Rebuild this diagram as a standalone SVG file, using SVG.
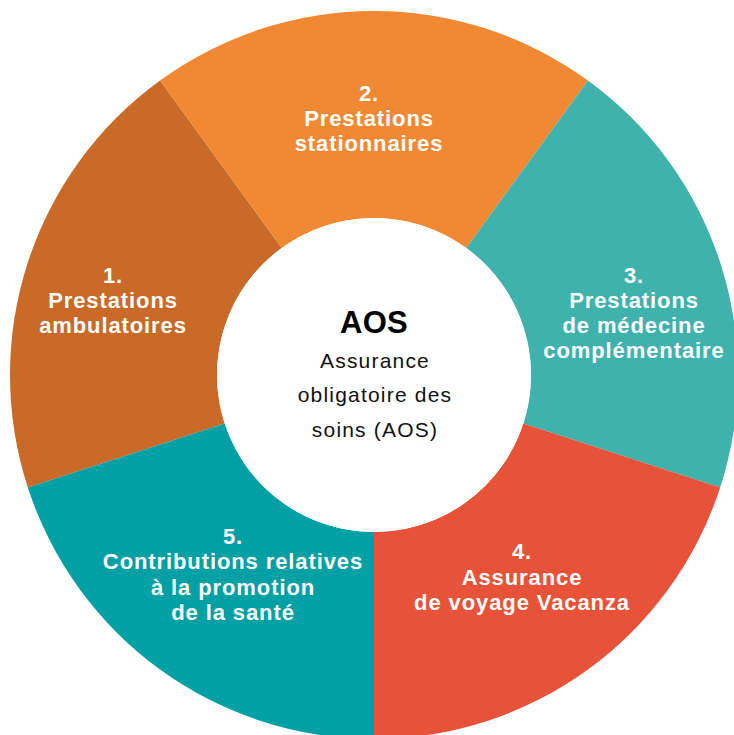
<svg xmlns="http://www.w3.org/2000/svg" width="734" height="735" viewBox="0 0 734 735">
<style>
.lbl{font-family:"Liberation Sans",Arial,sans-serif;font-weight:bold;font-size:22px;fill:#ffffff;text-anchor:middle;letter-spacing:0.9px}
.ctr{font-family:"Liberation Sans",Arial,sans-serif;font-size:21px;fill:#111111;text-anchor:middle;letter-spacing:1.2px}
.ttl{font-family:"Liberation Sans",Arial,sans-serif;font-weight:bold;font-size:31px;fill:#000000;text-anchor:middle;letter-spacing:0.3px}
</style>
<rect width="734" height="735" fill="#ffffff"/>
<g id="seg1">
<path d="M27.81,487.48 A364,364 0 0 1 160.04,80.52 L281.72,247.98 A157,157 0 0 0 224.68,423.52 Z" fill="#C96A29"/>
<text class="lbl" x="113" y="283">1.</text>
<text class="lbl" x="113" y="308">Prestations</text>
<text class="lbl" x="113" y="333">ambulatoires</text>
</g>
<g id="seg2">
<path d="M160.04,80.52 A364,364 0 0 1 587.96,80.52 L466.28,247.98 A157,157 0 0 0 281.72,247.98 Z" fill="#F18834"/>
<text class="lbl" x="369" y="101">2.</text>
<text class="lbl" x="369" y="126">Prestations</text>
<text class="lbl" x="369" y="151">stationnaires</text>
</g>
<g id="seg3">
<path d="M587.96,80.52 A364,364 0 0 1 720.19,487.48 L523.32,423.52 A157,157 0 0 0 466.28,247.98 Z" fill="#40B2AD"/>
<text class="lbl" x="634" y="283">3.</text>
<text class="lbl" x="634" y="308">Prestations</text>
<text class="lbl" x="634" y="333">de médecine</text>
<text class="lbl" x="634" y="358">complémentaire</text>
</g>
<g id="seg4">
<path d="M720.19,487.48 A364,364 0 0 1 374,739 L374,532 A157,157 0 0 0 523.32,423.52 Z" fill="#E85239"/>
<text class="lbl" x="522" y="559">4.</text>
<text class="lbl" x="522" y="585">Assurance</text>
<text class="lbl" x="522" y="610">de voyage Vacanza</text>
</g>
<g id="seg5">
<path d="M374,739 A364,364 0 0 1 27.81,487.48 L224.68,423.52 A157,157 0 0 0 374,532 Z" fill="#00A0A4"/>
<text class="lbl" x="233" y="544">5.</text>
<text class="lbl" x="233" y="569">Contributions relatives</text>
<text class="lbl" x="233" y="595">à la promotion</text>
<text class="lbl" x="233" y="620">de la santé</text>
</g>
<g id="center">
<circle cx="374" cy="375" r="157" fill="#ffffff"/>
<text class="ttl" x="374" y="333">AOS</text>
<text class="ctr" x="375" y="368">Assurance</text>
<text class="ctr" x="375" y="402">obligatoire des</text>
<text class="ctr" x="375" y="437">soins (AOS)</text>
</g>
</svg>
